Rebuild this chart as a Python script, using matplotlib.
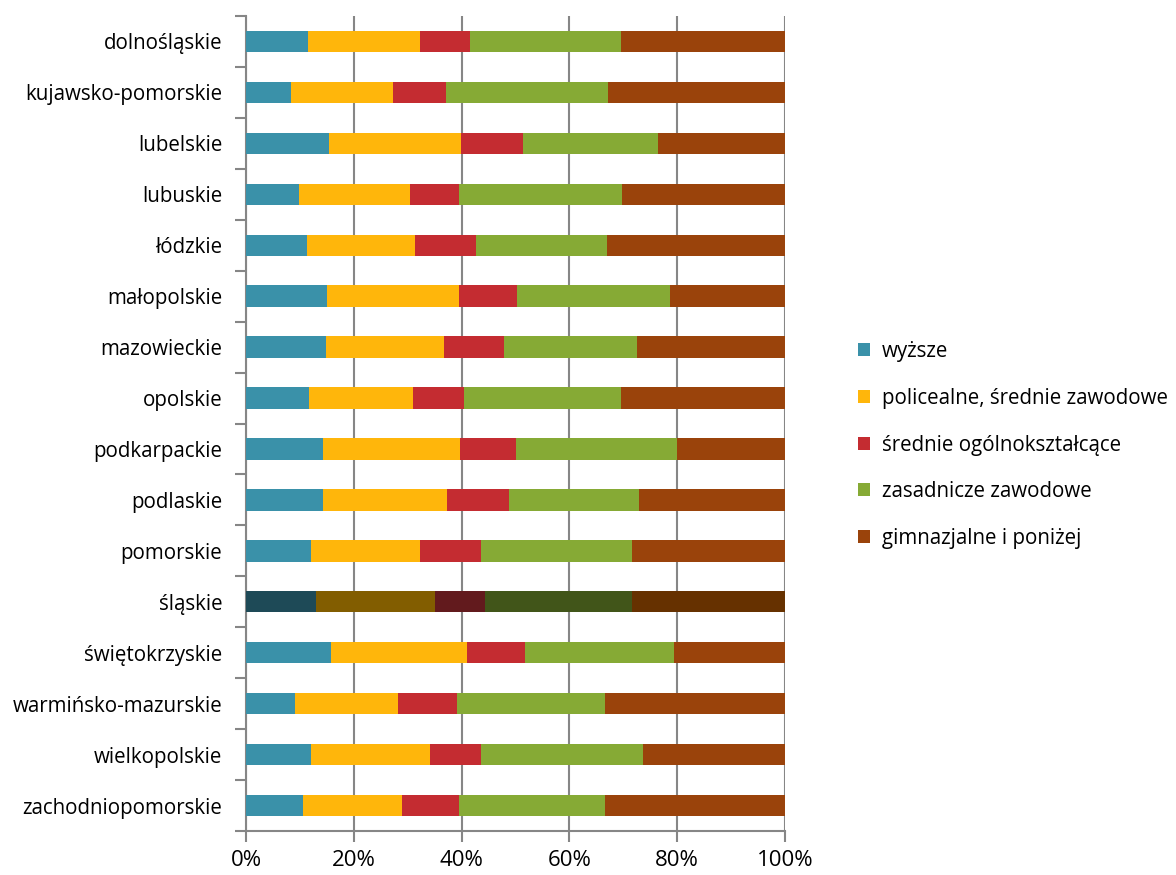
import matplotlib
matplotlib.use("Agg")
import matplotlib.pyplot as plt
from matplotlib.patches import Patch
import numpy as np

plt.rcParams['font.family'] = ['Open Sans', 'DejaVu Sans']

regions = ["dolnośląskie", "kujawsko-pomorskie", "lubelskie", "lubuskie", "łódzkie",
           "małopolskie", "mazowieckie", "opolskie", "podkarpackie", "podlaskie",
           "pomorskie", "śląskie", "świętokrzyskie", "warmińsko-mazurskie",
           "wielkopolskie", "zachodniopomorskie"]
series_names = ["wyższe", "policealne, średnie zawodowe", "średnie ogólnokształcące",
                "zasadnicze zawodowe", "gimnazjalne i poniżej"]

# shares (%)
wyzsze =      [11.5, 8.3, 15.4, 9.8, 11.3, 15.0, 14.8, 11.7, 14.3, 14.3, 12.1, 13.0, 15.8, 9.1, 12.1, 10.6]
policealne =  [20.8, 19.0, 24.5, 20.6, 20.1, 24.5, 21.9, 19.3, 25.4, 23.0, 20.2, 22.1, 25.2, 19.1, 22.0, 18.3]
srednie =     [9.3, 9.8, 11.5, 9.1, 11.3, 10.8, 11.2, 9.4, 10.4, 11.5, 11.3, 9.2, 10.8, 10.9, 9.5, 10.6]
zasadnicze =  [28.0, 30.1, 25.0, 30.3, 24.3, 28.4, 24.6, 29.2, 29.9, 24.1, 28.0, 27.3, 27.6, 27.5, 30.1, 27.1]
gimnazjalne = [30.4, 32.8, 23.6, 30.2, 33.0, 21.3, 27.5, 30.4, 20.0, 27.1, 28.4, 28.4, 20.6, 33.4, 26.3, 33.4]

data = [wyzsze, policealne, srednie, zasadnicze, gimnazjalne]
colors = ["#3A91A9", "#FFB60B", "#C42C31", "#86AA35", "#9A430B"]
dark_colors = ["#1E4A57", "#825D00", "#621A1D", "#415519", "#663100"]
highlight = "śląskie"

fig = plt.figure(figsize=(11.76, 8.75), dpi=100)
ax = fig.add_axes([246/1176, 1-831/875, (785-246)/1176, (831-16)/875])

y = np.arange(len(regions))
arr = np.array(data, dtype=float)
arr = arr / arr.sum(axis=0) * 100
left = np.zeros(len(regions))
for i, (vals, c, dc) in enumerate(zip(arr, colors, dark_colors)):
    cols = [dc if r == highlight else c for r in regions]
    ax.barh(y, vals, left=left, height=0.42, color=cols, edgecolor='none', zorder=3)
    left += vals

ax.set_xlim(0, 100)
ax.set_ylim(len(regions) - 0.5, -0.5)
ax.set_xticks(np.arange(0, 101, 20))
ax.set_xticklabels([f"{v}%" for v in range(0, 101, 20)], fontsize=16)
ax.set_yticks(y)
ax.set_yticklabels(regions, fontsize=14.8)
ax.set_yticks(np.arange(-0.5, len(regions), 1), minor=True)
ax.tick_params(axis='y', which='major', length=0, pad=17)
ax.tick_params(axis='y', which='minor', length=8, width=1.5, color='#868686')
ax.tick_params(axis='x', length=8, width=1.5, color='#868686', pad=6)
ax.grid(axis='x', color='#868686', linewidth=1.5, zorder=0)
for s in ['top', 'right']:
    ax.spines[s].set_visible(False)
for s in ['left', 'bottom']:
    ax.spines[s].set_color('#868686')
    ax.spines[s].set_linewidth(1.5)

handles = [Patch(facecolor=c, edgecolor='none') for c in colors]
fig.legend(handles, series_names, loc='center left', bbox_to_anchor=(858/1176, 1-445/875),
           frameon=False, fontsize=14.8, labelspacing=1.25, handlelength=0.6,
           handleheight=0.6, handletextpad=0.55, borderaxespad=0, borderpad=0)

fig.savefig("out.png", dpi=100)
